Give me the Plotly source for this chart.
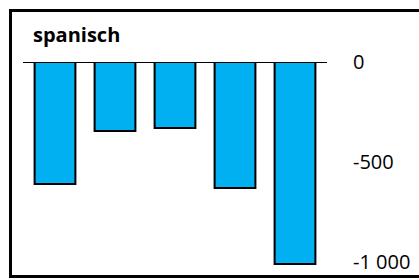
import plotly.graph_objects as go

categories = ["A", "B", "C", "D", "E"]
values = [-610, -345, -330, -630, -1010]
tick_vals = [0, -500, -1000]
tick_text = ["0", "-500", "-1 000"]
title_text = "spanisch"

fig = go.Figure(go.Bar(
    x=categories, y=values,
    marker=dict(color="#00B0F0", line=dict(color="#000000", width=2)),
    width=0.68,
))

L, R, T, B = 25, 419 - 325, 62, 280 - 272
PW, PH = 300, 210
fig.update_layout(
    width=419, height=280,
    margin=dict(l=L, r=R, t=T, b=B, pad=0, autoexpand=False),
    paper_bgcolor="white", plot_bgcolor="white",
    showlegend=False,
    font=dict(family="Open Sans", color="#000000"),
    xaxis=dict(visible=False, range=[-0.5, 4.5]),
    yaxis=dict(side="right", range=[-1050, 0], tickvals=tick_vals, ticktext=tick_text,
               showgrid=False, zeroline=False, showline=False, ticks="",
               ticklabelstandoff=27, tickfont=dict(size=20, family="Open Sans", color="#000")),
)

def px(x):
    return (x - L) / PW

def py(y):
    return (272 - y) / PH

# zero line
fig.add_shape(type="line", xref="paper", yref="y", x0=px(23), x1=px(327), y0=0, y1=0,
              line=dict(color="#000000", width=2))
# outer frame (four edges)
frame_line = dict(color="#000000", width=3)
fig.add_shape(type="line", xref="paper", yref="paper", x0=px(9), x1=px(425), y0=py(10.5), y1=py(10.5), line=frame_line)
fig.add_shape(type="line", xref="paper", yref="paper", x0=px(9), x1=px(425), y0=py(276.5), y1=py(276.5), line=frame_line)
fig.add_shape(type="line", xref="paper", yref="paper", x0=px(10.5), x1=px(10.5), y0=py(9), y1=py(278), line=frame_line)
fig.add_annotation(text="<b>" + title_text + "</b>", xref="paper", yref="paper",
                   x=px(31), y=py(34), xanchor="left", yanchor="middle",
                   showarrow=False, font=dict(size=20, family="Open Sans", color="#000"))

fig.write_html("out.html", config={"displayModeBar": False},
               post_script="document.body.style.margin='0px';document.body.style.overflow='hidden';")
